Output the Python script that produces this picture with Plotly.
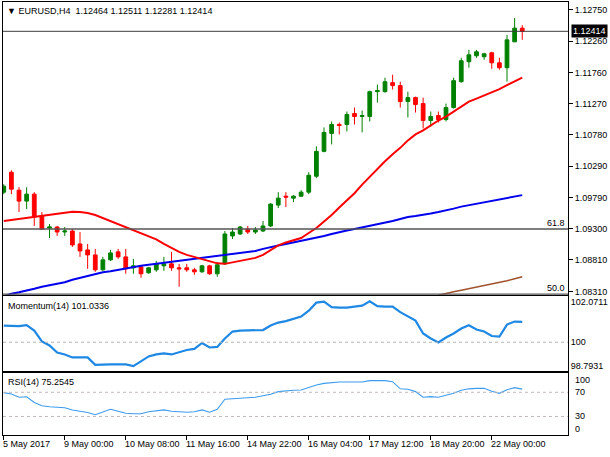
import plotly.graph_objects as go

# ---------------- data ----------------
bars = list(range(69))
opens = [1.09879, 1.10193, 1.09910, 1.09738, 1.09848, 1.09502, 1.09314, 1.09330, 1.09251, 1.09267,
         1.09063, 1.08969, 1.08890, 1.08655, 1.08812, 1.08938, 1.08859, 1.08687, 1.08702, 1.08608,
         1.08655, 1.08718, 1.08749, 1.08687, 1.08687, 1.08655, 1.08624, 1.08718, 1.08593, 1.08749,
         1.09189, 1.09220, 1.09298, 1.09251, 1.09267, 1.09346, 1.09675, 1.09816, 1.09785, 1.09816,
         1.09879, 1.10130, 1.10522, 1.10805, 1.10946, 1.10946, 1.11118, 1.11071, 1.11071, 1.11463,
         1.11463, 1.11605, 1.11558, 1.11307, 1.11369, 1.11275, 1.11008, 1.11087, 1.11024, 1.11212,
         1.11620, 1.11934, 1.12028, 1.12013, 1.12075, 1.11918, 1.11840, 1.12248, 1.12464]
highs = [1.10004, 1.10224, 1.09957, 1.09957, 1.09879, 1.09565, 1.09377, 1.09346, 1.09330, 1.09298,
         1.09251, 1.09063, 1.08985, 1.08859, 1.08969, 1.08985, 1.08985, 1.08828, 1.08718, 1.08702,
         1.08796, 1.08859, 1.08938, 1.08749, 1.08749, 1.08687, 1.08734, 1.08734, 1.08781, 1.09267,
         1.09314, 1.09346, 1.09346, 1.09330, 1.09424, 1.09706, 1.09879, 1.09879, 1.09832, 1.09910,
         1.10193, 1.10601, 1.10899, 1.10993, 1.10977, 1.11150, 1.11212, 1.11165, 1.11479, 1.11573,
         1.11683, 1.11730, 1.11620, 1.11463, 1.11385, 1.11369, 1.11150, 1.11150, 1.11275, 1.11683,
         1.11997, 1.12122, 1.12122, 1.12075, 1.12091, 1.11997, 1.12358, 1.12624, 1.12511]
lows = [1.09848, 1.09848, 1.09565, 1.09612, 1.09346, 1.09283, 1.09157, 1.09189, 1.09189, 1.09016,
        1.08859, 1.08671, 1.08624, 1.08640, 1.08796, 1.08828, 1.08593, 1.08593, 1.08530, 1.08593,
        1.08624, 1.08640, 1.08640, 1.08389, 1.08624, 1.08577, 1.08608, 1.08577, 1.08546, 1.08734,
        1.09142, 1.09204, 1.09220, 1.09220, 1.09251, 1.09330, 1.09628, 1.09644, 1.09722, 1.09801,
        1.09848, 1.10099, 1.10507, 1.10632, 1.10789, 1.10836, 1.10946, 1.10820, 1.10993, 1.11291,
        1.11448, 1.11495, 1.11212, 1.11056, 1.11134, 1.10883, 1.10914, 1.10977, 1.10993, 1.11197,
        1.11605, 1.11840, 1.11997, 1.11966, 1.11824, 1.11809, 1.11620, 1.12248, 1.12281]
closes = [1.09973, 1.09926, 1.09738, 1.09848, 1.09487, 1.09298, 1.09330, 1.09251, 1.09267, 1.09048,
          1.08953, 1.08890, 1.08655, 1.08812, 1.08922, 1.08859, 1.08671, 1.08718, 1.08593, 1.08687,
          1.08749, 1.08749, 1.08687, 1.08671, 1.08655, 1.08624, 1.08718, 1.08593, 1.08734, 1.09220,
          1.09251, 1.09330, 1.09251, 1.09283, 1.09346, 1.09691, 1.09785, 1.09801, 1.09816, 1.09879,
          1.10146, 1.10522, 1.10820, 1.10946, 1.10930, 1.11103, 1.11071, 1.11087, 1.11463, 1.11479,
          1.11620, 1.11558, 1.11307, 1.11369, 1.11260, 1.11008, 1.11071, 1.11024, 1.11212, 1.11636,
          1.11950, 1.12044, 1.12091, 1.12060, 1.11918, 1.11840, 1.12279, 1.12464, 1.12414]

ma_red = [1.09424, 1.09440, 1.09455, 1.09471, 1.09487, 1.09502, 1.09518, 1.09534, 1.09557, 1.09570,
          1.09565, 1.09549, 1.09518, 1.09471, 1.09416, 1.09369, 1.09322, 1.09283, 1.09228, 1.09181,
          1.09134, 1.09063, 1.09000, 1.08938, 1.08890, 1.08859, 1.08828, 1.08789, 1.08757, 1.08749,
          1.08773, 1.08796, 1.08812, 1.08843, 1.08890, 1.08969, 1.09040, 1.09087, 1.09118, 1.09157,
          1.09236, 1.09314, 1.09416, 1.09518, 1.09636, 1.09753, 1.09863, 1.09997, 1.10122, 1.10240,
          1.10365, 1.10475, 1.10577, 1.10695, 1.10789, 1.10852, 1.10930, 1.11008, 1.11071, 1.11150,
          1.11228, 1.11307, 1.11354, 1.11401, 1.11456, 1.11503, 1.11565, 1.11628, 1.11683]
ma_blue = [1.08239, 1.08279, 1.08302, 1.08326, 1.08357, 1.08388, 1.08412, 1.08436, 1.08459, 1.08498,
           1.08530, 1.08561, 1.08592, 1.08616, 1.08632, 1.08655, 1.08671, 1.08702, 1.08718, 1.08734,
           1.08749, 1.08765, 1.08781, 1.08796, 1.08812, 1.08828, 1.08843, 1.08859, 1.08867, 1.08890,
           1.08906, 1.08914, 1.08930, 1.08953, 1.08985, 1.09016, 1.09040, 1.09063, 1.09087, 1.09110,
           1.09134, 1.09165, 1.09189, 1.09220, 1.09251, 1.09275, 1.09298, 1.09322, 1.09346, 1.09369,
           1.09393, 1.09424, 1.09455, 1.09487, 1.09502, 1.09518, 1.09542, 1.09565, 1.09589, 1.09620,
           1.09651, 1.09675, 1.09699, 1.09722, 1.09746, 1.09769, 1.09785, 1.09808, 1.09832]
brown_bars = list(range(57, 69))
ma_brown = [1.08255, 1.08287, 1.08310, 1.08334, 1.08357, 1.08381, 1.08404, 1.08428, 1.08451,
            1.08483, 1.08514, 1.08545]

momentum = [100.846, 100.846, 100.820, 100.871, 100.594, 100.039, 99.837, 99.484, 99.383, 99.232,
            99.232, 99.232, 98.854, 98.879, 98.879, 98.879, 98.879, 98.7931, 99.030, 99.282,
            99.383, 99.434, 99.383, 99.509, 99.610, 99.661, 99.963, 99.736, 99.762, 100.190,
            100.543, 100.594, 100.594, 100.594, 100.619, 100.846, 100.997, 101.073, 101.174, 101.300,
            101.602, 102.006, 102.056, 101.779, 101.753, 101.753, 101.804, 101.854, 102.0711, 101.829,
            101.804, 101.804, 101.527, 101.325, 101.098, 100.442, 100.190, 99.988, 100.241, 100.442,
            100.694, 100.861, 100.644, 100.543, 100.316, 100.291, 100.896, 101.047, 101.0336]
rsi = [69.47, 67.16, 61.73, 62.55, 53.00, 47.74, 46.09, 45.27, 44.44, 40.82,
       38.68, 36.54, 32.92, 37.04, 41.98, 38.68, 35.39, 34.57, 34.57, 37.86,
       39.51, 40.82, 38.68, 37.86, 37.04, 37.86, 40.82, 37.04, 41.98, 58.44,
       59.26, 60.08, 60.08, 61.73, 64.20, 66.67, 71.11, 72.43, 73.25, 73.74,
       78.19, 81.98, 84.77, 86.42, 86.91, 86.91, 86.91, 86.91, 89.22, 89.22,
       89.22, 87.57, 75.72, 74.90, 71.11, 61.73, 62.88, 61.73, 65.02, 68.31,
       73.25, 75.72, 76.54, 76.54, 71.60, 68.31, 74.07, 77.70, 75.2545]

tick_bars = [0, 8, 16, 24, 32, 40, 48, 56, 64]
tick_labels = ["5 May 2017", "9 May 00:00", "10 May 08:00", "11 May 16:00", "14 May 22:00",
               "16 May 04:00", "17 May 12:00", "18 May 20:00", "22 May 00:00"]
price_ticks = [1.12750, 1.12260, 1.11760, 1.11270, 1.10780, 1.10290, 1.09790, 1.09300, 1.08810, 1.08310]
last_price = 1.12414
fib_levels = [1.09298, 1.08271]
fib_labels = ["61.8", "50.0"]
mom_ticks = [102.0711, 100, 98.7931]
mom_ticktext = ["102.0711", "100", "98.7931"]
rsi_levels = [100, 70, 30, 0]
header = "\u25bc EURUSD,H4\u00a0 1.12464 1.12511 1.12281 1.12414"

# ---------------- layout helpers ----------------
W, H = 610, 457
FONT = "Liberation Sans, Arial, sans-serif"
FS = 9


def px(x):
    return x / W


def py(y):
    return 1 - y / H


xdom = [px(3), px(568)]
xrange_ = [-0.1, 74.0]

fig = go.Figure()

fig.add_trace(go.Candlestick(
    x=bars, open=opens, high=highs, low=lows, close=closes,
    increasing=dict(line=dict(color="#008000", width=1), fillcolor="#008000"),
    decreasing=dict(line=dict(color="#ff0000", width=1), fillcolor="#ff0000"),
    whiskerwidth=0, xaxis="x", yaxis="y", showlegend=False, hoverinfo="skip"))
fig.add_trace(go.Scatter(x=bars, y=ma_blue, mode="lines", line=dict(color="#0000ee", width=2),
                         xaxis="x", yaxis="y", showlegend=False, hoverinfo="skip"))
fig.add_trace(go.Scatter(x=bars, y=ma_red, mode="lines", line=dict(color="#ff0000", width=2),
                         xaxis="x", yaxis="y", showlegend=False, hoverinfo="skip"))
fig.add_trace(go.Scatter(x=brown_bars, y=ma_brown, mode="lines", line=dict(color="#a0522d", width=1.6),
                         xaxis="x", yaxis="y", showlegend=False, hoverinfo="skip"))
fig.add_trace(go.Scatter(x=bars, y=momentum, mode="lines", line=dict(color="#1e88e5", width=2.2),
                         xaxis="x2", yaxis="y2", showlegend=False, hoverinfo="skip"))
fig.add_trace(go.Scatter(x=bars, y=rsi, mode="lines", line=dict(color="#3d9bf0", width=1.1),
                         xaxis="x3", yaxis="y3", showlegend=False, hoverinfo="skip"))

axis_common = dict(showgrid=False, zeroline=False, showline=True, mirror=True,
                   linecolor="#000000", linewidth=1)
tickfont = dict(family=FONT, size=FS, color="#000000")

# momentum axis range (data span padded inside panel)
mom_min, mom_max = 98.7931, 102.0711
mom_pad_top = (mom_max - mom_min) * 5.7 / 65.0
mom_pad_bot = (mom_max - mom_min) * 4.8 / 65.0

fig.update_layout(
    width=W, height=H,
    margin=dict(l=0, r=0, t=0, b=0),
    paper_bgcolor="white", plot_bgcolor="white",
    showlegend=False,
    boxgap=0.3,
    xaxis=dict(domain=xdom, range=xrange_, anchor="y", showticklabels=False, ticks="",
               rangeslider=dict(visible=False), **axis_common),
    yaxis=dict(domain=[py(296), py(2)], range=[1.08263, 1.12876], side="right", anchor="x",
               tickvals=price_ticks, ticktext=["%.5f" % v for v in price_ticks],
               ticks="outside", ticklen=4, tickcolor="#000000", tickfont=tickfont, **axis_common),
    xaxis2=dict(domain=xdom, range=xrange_, anchor="y2", matches="x", showticklabels=False,
                ticks="", **axis_common),
    yaxis2=dict(domain=[py(372.5), py(297)], range=[mom_min - mom_pad_bot, mom_max + mom_pad_top],
                side="right", anchor="x2", tickvals=mom_ticks, ticktext=mom_ticktext,
                ticks="", tickfont=tickfont, **axis_common),
    xaxis3=dict(domain=xdom, range=xrange_, anchor="y3", matches="x", showticklabels=False,
                tickvals=tick_bars, ticks="outside", ticklen=4, tickcolor="#000000", **axis_common),
    yaxis3=dict(domain=[py(437), py(374.5)], range=[-0.82, 102.14], side="right", anchor="x3",
                showticklabels=False, ticks="", **axis_common),
)

shapes = []
# current price line
shapes.append(dict(type="line", xref="x domain", yref="y", x0=0, x1=1, y0=last_price, y1=last_price,
                   line=dict(color="#3c3c3c", width=1)))
for lv in fib_levels:
    shapes.append(dict(type="line", xref="x domain", yref="y", x0=0, x1=1, y0=lv, y1=lv,
                       line=dict(color="#555555", width=1.5)))
shapes.append(dict(type="line", xref="x2 domain", yref="y2", x0=0, x1=1, y0=100, y1=100,
                   line=dict(color="#b4b4b4", width=1, dash="dot")))
for lv in [70, 30]:
    shapes.append(dict(type="line", xref="x3 domain", yref="y3", x0=0, x1=1, y0=lv, y1=lv,
                       line=dict(color="#c0b8b8", width=1, dash="dot")))
fig.update_layout(shapes=shapes)

ann = []
ann.append(dict(text=header, xref="paper", yref="paper", x=px(5), y=py(11), xanchor="left",
                yanchor="middle", showarrow=False, font=dict(family=FONT, size=FS, color="#000")))
ann.append(dict(text="%.5f" % last_price, xref="paper", yref="y", x=px(571), y=last_price,
                xanchor="left", yanchor="middle", showarrow=False, bgcolor="#000000",
                borderpad=1, font=dict(family=FONT, size=FS, color="#ffffff")))
for lv, lab in zip(fib_levels, fib_labels):
    ann.append(dict(text=lab, xref="paper", yref="y", x=px(567), y=lv, xanchor="right",
                    yanchor="bottom", showarrow=False, yshift=-1,
                    font=dict(family=FONT, size=FS, color="#000")))
ann.append(dict(text="Momentum(14) 101.0336", xref="paper", yref="paper", x=px(6), y=py(307),
                xanchor="left", yanchor="middle", showarrow=False,
                font=dict(family=FONT, size=FS, color="#000")))
ann.append(dict(text="RSI(14) 75.2545", xref="paper", yref="paper", x=px(6), y=py(384),
                xanchor="left", yanchor="middle", showarrow=False,
                font=dict(family=FONT, size=FS, color="#000")))
rsi_shift = {100: -6, 70: 0, 30: 0, 0: 6}
for lv in rsi_levels:
    ann.append(dict(text=str(lv), xref="paper", yref="y3", x=px(573), y=lv, xanchor="left",
                    yanchor="middle", yshift=rsi_shift[lv], showarrow=False,
                    font=dict(family=FONT, size=FS, color="#000")))
for b, lab in zip(tick_bars, tick_labels):
    ann.append(dict(text=lab, xref="x3", yref="paper", x=b, y=py(446), xanchor="left",
                    yanchor="middle", xshift=-3, showarrow=False,
                    font=dict(family=FONT, size=FS, color="#000")))
fig.update_layout(annotations=ann)

fig.write_html("out.html", config={"displayModeBar": False, "staticPlot": True},
               post_script="document.body.style.margin='0';document.body.style.overflow='hidden';")
